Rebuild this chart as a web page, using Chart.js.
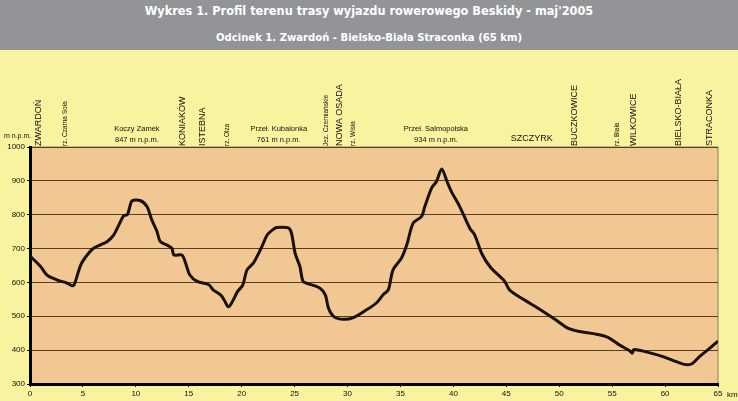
<!DOCTYPE html>
<html>
<head>
<meta charset="utf-8" />
<title>Profil terenu - Odcinek 1</title>
<script src="https://cdn.jsdelivr.net/npm/chart.js@4/dist/chart.umd.min.js"></script>
<style>
  html, body { margin: 0; padding: 0; background: #f8f39e; }
  body { width: 738px; height: 401px; overflow: hidden; font-family: 'DejaVu Sans Condensed', 'Liberation Sans', sans-serif; }
  .head { position: relative; height: 50px; background: #929497; color: #fff; text-align: center; }
  .head h1 { position: absolute; left: 0; right: 0; top: 3px; margin: 0; font-size: 12.6px; line-height: 16px; font-weight: bold; }
  .head h2 { position: absolute; left: 0; right: 0; top: 30px; margin: 0; font-size: 11.2px; line-height: 16px; font-weight: bold; }
  .wrap { position: relative; width: 738px; height: 351px; }
</style>
</head>
<body>
<div class="head">
  <h1>Wykres 1. Profil terenu trasy wyjazdu rowerowego Beskidy - maj'2005</h1>
  <h2>Odcinek 1. Zwardoń - Bielsko-Biała Straconka (65 km)</h2>
</div>
<div class="wrap"><canvas id="profil" width="738" height="351"></canvas></div>

<script>
// odleglosc [km] i wysokosc [m n.p.m.]
const km = [0, 1.0, 1.6, 2.6, 3.5, 4.0, 4.2, 4.8, 5.4, 6.0, 6.65, 7.3, 7.9, 8.4, 8.85, 9.2, 9.4, 9.65, 10.4, 11.05,
  11.5, 12.0, 12.3, 12.9, 13.4, 13.6, 14.35, 14.7, 15.1, 15.8, 16.9, 17.3, 18.0, 18.35, 18.75, 19.2, 19.6, 20.1,
  20.5, 21.1, 21.6, 22.05, 22.4, 23.0, 23.3, 24.4, 24.7, 25.05, 25.5, 25.8, 26.3, 27.4, 27.9, 28.2, 28.7, 29.6,
  30.55, 31.8, 32.75, 33.4, 33.85, 34.3, 35.1, 35.6, 36.2, 37.0, 37.3, 37.95, 38.4, 38.9, 39.4, 39.8, 40.6, 41.55,
  42.0, 42.7, 43.5, 44.85, 45.3, 46.6, 48.0, 49.7, 50.8, 51.9, 53.35, 54.6, 55.7, 56.65, 56.9, 57.05, 58.2, 59.8,
  61.05, 61.8, 62.5, 63.25, 64.2, 65];
const elev = [678, 647, 622, 607, 598, 590, 595, 652, 681, 701, 711, 721, 740, 770, 797, 800, 820, 841, 842, 824,
  785, 750, 721, 711, 701, 681, 681, 657, 622, 603, 593, 578, 563, 548, 528, 548, 573, 592,
  637, 657, 686, 716, 740, 757, 762, 761, 746, 686, 647, 603, 596, 583, 563, 524, 499, 491,
  496, 519, 540, 565, 578, 637, 672, 711, 775, 795, 824, 879, 898, 935, 898, 869, 824, 760,
  741, 684, 645, 603, 578, 550, 524, 489, 465, 455, 448, 438, 415, 398, 391, 402, 395, 381,
  366, 358, 359, 381, 405, 427];

const xTicks = [0, 5, 10, 15, 20, 25, 30, 35, 40, 45, 50, 55, 60, 65];
const yTicks = [300, 400, 500, 600, 700, 800, 900, 1000];

// miejscowosci / rzeki - pionowe podpisy nad wykresem
const placeNames = ['ZWARDOŃ', 'KONIAKÓW', 'ISTEBNA', 'NOWA OSADA', 'BUCZKOWICE', 'WILKOWICE', 'BIELSKO-BIAŁA', 'STRACONKA'];
const placeKm = [0.8, 14.4, 16.3, 29.2, 51.4, 57.0, 61.3, 64.2];
const riverNames = ['rz. Czarna Soła', 'rz. Olza', 'Jez. Czerniańskie', 'rz. Wisła', 'rz. Biała'];
const riverKm = [3.35, 18.6, 28.0, 30.5, 55.5];
// przelecze - poziome podpisy
const passNames = ['Koczy Zamek', 'Przeł. Kubalonka', 'Przeł. Salmopolska'];
const passHeights = ['847 m n.p.m.', '761 m n.p.m.', '934 m n.p.m.'];
const passKm = [10.1, 23.5, 38.35];

const FONT = "'Liberation Sans', Arial, sans-serif";

const profilePlugin = {
  id: 'profile',
  beforeDraw(chart) {
    const { ctx, chartArea: a } = chart;
    ctx.save();
    ctx.fillStyle = '#f1c793';
    ctx.fillRect(a.left, a.top, a.right - a.left, a.bottom - a.top);
    ctx.strokeStyle = '#8c7c64';
    ctx.lineWidth = 1;
    ctx.strokeRect(a.left, a.top, a.right - a.left, a.bottom - a.top);
    ctx.restore();
  },
  afterDraw(chart) {
    const { ctx, chartArea: a, scales } = chart;
    const x = scales.x;
    ctx.save();
    ctx.fillStyle = '#111';

    ctx.textBaseline = 'middle';
    ctx.textAlign = 'left';
    ctx.font = '9px ' + FONT;
    placeNames.forEach((n, i) => {
      ctx.save();
      ctx.translate(x.getPixelForValue(placeKm[i]), a.top - 1);
      ctx.rotate(-Math.PI / 2);
      ctx.fillText(n, 0, 0);
      ctx.restore();
    });
    ctx.font = '6.5px ' + FONT;
    riverNames.forEach((n, i) => {
      ctx.save();
      ctx.translate(x.getPixelForValue(riverKm[i]), a.top - 1);
      ctx.rotate(-Math.PI / 2);
      ctx.fillText(n, 0, 0);
      ctx.restore();
    });

    ctx.textAlign = 'center';
    ctx.font = '7.5px ' + FONT;
    passNames.forEach((n, i) => {
      const px = x.getPixelForValue(passKm[i]);
      ctx.fillText(n, px, a.top - 18);
      ctx.fillText(passHeights[i], px, a.top - 7);
    });
    ctx.font = '9px ' + FONT;
    ctx.fillText('SZCZYRK', x.getPixelForValue(47.4), a.top - 8);

    // jednostki
    ctx.font = '7px ' + FONT;
    ctx.textAlign = 'left';
    ctx.fillText('m n.p.m.', 4, a.top - 11);
    ctx.font = '8px ' + FONT;
    ctx.fillText('km', a.right + 9, a.bottom + 11);
    ctx.restore();
  }
};

new Chart(document.getElementById('profil'), {
  type: 'line',
  data: {
    datasets: [{
      data: km.map((k, i) => ({ x: k, y: elev[i] })),
      borderColor: '#1a120a',
      borderWidth: 3,
      pointRadius: 0,
      tension: 0.3,
      fill: false
    }]
  },
  options: {
    responsive: false,
    animation: false,
    layout: { padding: { left: 0, right: 20, top: 97, bottom: 0 } },
    plugins: { legend: { display: false }, tooltip: { enabled: false } },
    scales: {
      x: {
        type: 'linear', min: 0, max: 65,
        afterBuildTicks: s => { s.ticks = xTicks.map(v => ({ value: v })); },
        afterFit: s => { s.height = 17; },
        grid: { drawOnChartArea: false, tickLength: 3, tickColor: '#000', lineWidth: 1 },
        border: { color: '#000', width: 3 },
        ticks: { color: '#111', font: { size: 8, family: FONT }, padding: 2, maxRotation: 0,
          callback: v => String(v) }
      },
      y: {
        min: 300, max: 1000,
        afterBuildTicks: s => { s.ticks = yTicks.map(v => ({ value: v })); },
        afterFit: s => { s.width = 30; },
        grid: { color: '#5a3d22', lineWidth: 1, tickLength: 3, tickColor: '#000' },
        border: { color: '#000', width: 3 },
        ticks: { color: '#111', font: { size: 8, family: FONT }, padding: 2,
          callback: v => String(v) }
      }
    }
  },
  plugins: [profilePlugin]
});
</script>
</body>
</html>
